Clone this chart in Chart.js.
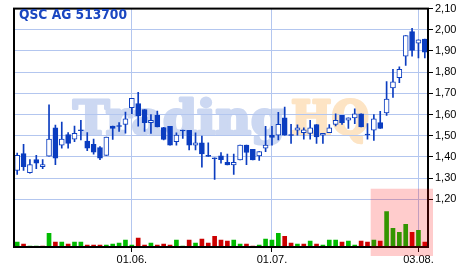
<!DOCTYPE html>
<html>
<head>
<meta charset="utf-8">
<script src="https://cdn.jsdelivr.net/npm/chart.js@4.4.0/dist/chart.umd.min.js"></script>
<style>
body { margin: 0; background: #fff; }
#chart { display: block; }
</style>
</head>
<body>
<canvas id="chart" width="468" height="263"></canvas>
<script>
const title = 'QSC AG 513700';

const dates = [
    '06.05.','07.05.','08.05.','11.05.','12.05.','13.05.','14.05.','15.05.','18.05.','19.05.',
    '20.05.','21.05.','22.05.','25.05.','26.05.','27.05.','28.05.','29.05.',
    '01.06.','02.06.','03.06.','04.06.','05.06.','08.06.','09.06.','10.06.','11.06.','12.06.',
    '15.06.','16.06.','17.06.','18.06.','19.06.','22.06.','23.06.','24.06.','25.06.','26.06.',
    '29.06.','30.06.',
    '01.07.','02.07.','03.07.','06.07.','07.07.','08.07.','09.07.','10.07.','13.07.','14.07.',
    '15.07.','16.07.','17.07.','20.07.','21.07.','22.07.','23.07.','24.07.','27.07.','28.07.',
    '29.07.','30.07.','31.07.',
    '03.08.','04.08.'
];

const opens = [
    1.336, 1.416, 1.326, 1.387, 1.354, 1.404, 1.537, 1.456, 1.506, 1.484,
    1.528, 1.475, 1.460, 1.444, 1.407, 1.546, 1.548, 1.553, 1.633, 1.652,
    1.624, 1.562, 1.596, 1.538, 1.545, 1.472, 1.527, 1.526, 1.456, 1.467,
    1.407, 1.396, 1.405, 1.374, 1.362, 1.386, 1.456, 1.436, 1.405, 1.441,
    1.503, 1.503, 1.585, 1.505, 1.526, 1.514, 1.511, 1.553, 1.503, 1.514,
    1.554, 1.596, 1.573, 1.584, 1.604, 1.508, 1.526, 1.562, 1.608, 1.726,
    1.774, 1.875, 1.991, 1.937, 1.956
];
const highs = [
    1.418, 1.460, 1.387, 1.407, 1.387, 1.646, 1.550, 1.565, 1.515, 1.546,
    1.573, 1.515, 1.484, 1.449, 1.494, 1.546, 1.562, 1.612, 1.677, 1.705,
    1.624, 1.600, 1.616, 1.540, 1.545, 1.514, 1.527, 1.526, 1.514, 1.498,
    1.467, 1.396, 1.421, 1.414, 1.414, 1.456, 1.456, 1.436, 1.425, 1.545,
    1.545, 1.611, 1.635, 1.554, 1.552, 1.537, 1.573, 1.553, 1.511, 1.553,
    1.604, 1.596, 1.584, 1.627, 1.604, 1.557, 1.600, 1.615, 1.756, 1.813,
    1.825, 1.973, 2.007, 1.953, 1.956
];
const lows = [
    1.317, 1.336, 1.323, 1.345, 1.345, 1.404, 1.364, 1.441, 1.441, 1.472,
    1.480, 1.429, 1.413, 1.387, 1.407, 1.483, 1.520, 1.512, 1.604, 1.545,
    1.520, 1.511, 1.542, 1.480, 1.456, 1.456, 1.487, 1.433, 1.433, 1.352,
    1.403, 1.294, 1.371, 1.362, 1.317, 1.386, 1.363, 1.386, 1.383, 1.425,
    1.456, 1.480, 1.503, 1.464, 1.503, 1.484, 1.484, 1.464, 1.464, 1.514,
    1.546, 1.554, 1.534, 1.557, 1.542, 1.484, 1.478, 1.534, 1.596, 1.681,
    1.751, 1.832, 1.875, 1.867, 1.867
];
const closes = [
    1.407, 1.354, 1.364, 1.371, 1.364, 1.484, 1.394, 1.484, 1.464, 1.511,
    1.524, 1.441, 1.422, 1.394, 1.494, 1.534, 1.544, 1.580, 1.677, 1.593,
    1.562, 1.573, 1.542, 1.483, 1.456, 1.503, 1.523, 1.456, 1.467, 1.414,
    1.403, 1.392, 1.387, 1.362, 1.374, 1.456, 1.421, 1.386, 1.425, 1.456,
    1.492, 1.554, 1.503, 1.501, 1.537, 1.528, 1.537, 1.495, 1.511, 1.537,
    1.573, 1.562, 1.584, 1.604, 1.542, 1.504, 1.580, 1.534, 1.673, 1.754,
    1.813, 1.973, 1.903, 1.953, 1.894
];
const volumes = [
    50, 30, 10, 10, 10, 140, 50, 50, 30, 50,
    50, 20, 20, 20, 20, 30, 40, 70, 20, 90,
    20, 40, 20, 30, 20, 70, 10, 70, 40, 80,
    40, 110, 70, 60, 70, 30, 30, 10, 20, 80,
    70, 140, 110, 40, 30, 30, 60, 30, 20, 70,
    70, 50, 60, 20, 60, 50, 70, 60, 360, 190,
    150, 230, 150, 170, 50
];

const dateTicks = ['01.06.', '01.07.', '03.08.'];
const priceTicks = [1.2, 1.3, 1.4, 1.5, 1.6, 1.7, 1.8, 1.9, 2.0, 2.1];
const highlightFrom = '23.07.';

const blue = '#0b3dc0';
const gridBlue = '#b3c6ef';
const green = '#00bb00';
const red = '#cc0000';

const bodies = dates.map((d, i) => [Math.min(opens[i], closes[i]), Math.max(opens[i], closes[i])]);
const wicks = dates.map((d, i) => [lows[i], highs[i]]);
const bodyColors = dates.map((d, i) => closes[i] >= opens[i] ? '#ffffff' : blue);
const volColors = dates.map((d, i) => (i === 0 || closes[i] >= closes[i - 1]) ? green : red);

// draws one line of text squeezed to a given width (optionally fattened with a stroke)
function fitText(ctx, text, x, y, w, fat) {
    const m = ctx.measureText(text).width;
    ctx.save();
    ctx.translate(x, y);
    ctx.scale(w / m, 1);
    ctx.fillText(text, 0, 0);
    if (fat) {
        ctx.lineWidth = fat;
        ctx.lineJoin = 'round';
        ctx.strokeStyle = ctx.fillStyle;
        ctx.strokeText(text, 0, 0);
    }
    ctx.restore();
}

const decor = {
    id: 'decor',
    beforeDraw(chart) {
        const ctx = chart.ctx;
        ctx.save();
        ctx.font = 'bold 46px "DejaVu Serif"';
        ctx.textBaseline = 'alphabetic';
        ctx.fillStyle = '#ccd8f2';
        fitText(ctx, 'Trading', 73, 134, 212, 3);
        ctx.fillStyle = '#fde4c4';
        fitText(ctx, 'HQ', 291, 134, 78, 3);
        ctx.restore();
    },
    afterDatasetsDraw(chart) {
        const ctx = chart.ctx;
        const a = chart.chartArea;
        const x = chart.scales.x;
        const y = chart.scales.y;
        ctx.save();
        // frame
        ctx.strokeStyle = '#000';
        ctx.lineWidth = 2;
        ctx.strokeRect(a.left, a.top, a.right - a.left, a.bottom - a.top);
        // title
        ctx.font = 'bold 14px "DejaVu Sans"';
        ctx.fillStyle = '#1b47c1';
        ctx.textBaseline = 'alphabetic';
        fitText(ctx, title, 19, 19, 108);
        // red box over the last days
        const half = (x.getPixelForValue(1) - x.getPixelForValue(0)) / 2;
        const x0 = x.getPixelForValue(dates.indexOf(highlightFrom)) - half;
        const y0 = y.getPixelForValue(1.25);
        ctx.fillStyle = 'rgba(255, 0, 0, 0.2)';
        ctx.fillRect(x0, y0, a.right + 5 - x0, a.bottom + 9 - y0);
        ctx.restore();
    }
};

const ctx = document.getElementById('chart').getContext('2d');
const chart = new Chart(ctx, {
    type: 'bar',
    data: {
        labels: dates,
        datasets: [{
            data: bodies,
            yAxisID: 'y',
            grouped: false,
            barThickness: 5,
            borderWidth: 1,
            borderColor: blue,
            borderSkipped: false,
            backgroundColor: bodyColors,
            order: 0
        }, {
            data: wicks,
            yAxisID: 'y',
            grouped: false,
            barThickness: 1,
            borderWidth: 0,
            backgroundColor: blue,
            order: 1
        }, {
            data: volumes,
            yAxisID: 'yv',
            grouped: false,
            barThickness: 4,
            borderWidth: 0,
            backgroundColor: volColors,
            order: 2
        }]
    },
    options: {
        responsive: false,
        animation: false,
        devicePixelRatio: 1,
        layout: { padding: { left: 14, top: 4, right: 0, bottom: 0 } },
        plugins: {
            legend: { display: false },
            tooltip: { enabled: false }
        },
        scales: {
            x: {
                offset: true,
                grid: {
                    offset: false,
                    color: gridBlue,
                    tickColor: '#000',
                    tickLength: 5
                },
                border: { display: false },
                ticks: {
                    autoSkip: false,
                    maxRotation: 0,
                    padding: 1,
                    color: '#000',
                    font: { family: '"Liberation Sans"', size: 11 }
                },
                afterBuildTicks(scale) {
                    scale.ticks = scale.ticks.filter(t => dateTicks.includes(dates[t.value]));
                },
                afterFit(scale) { scale.height = 16; }
            },
            y: {
                position: 'right',
                min: 0.975,
                max: 2.1,
                grid: {
                    color: gridBlue,
                    tickColor: '#000',
                    tickLength: 5
                },
                border: { display: false },
                ticks: {
                    padding: 2,
                    color: '#000',
                    font: { family: '"Liberation Sans"', size: 11 },
                    callback: v => v.toFixed(2).replace('.', ',')
                },
                afterBuildTicks(scale) {
                    scale.ticks = priceTicks.map(v => ({ value: v }));
                },
                afterFit(scale) { scale.width = 40; }
            },
            yv: {
                display: false,
                min: 0,
                max: 2430
            }
        }
    },
    plugins: [decor]
});
</script>
</body>
</html>
